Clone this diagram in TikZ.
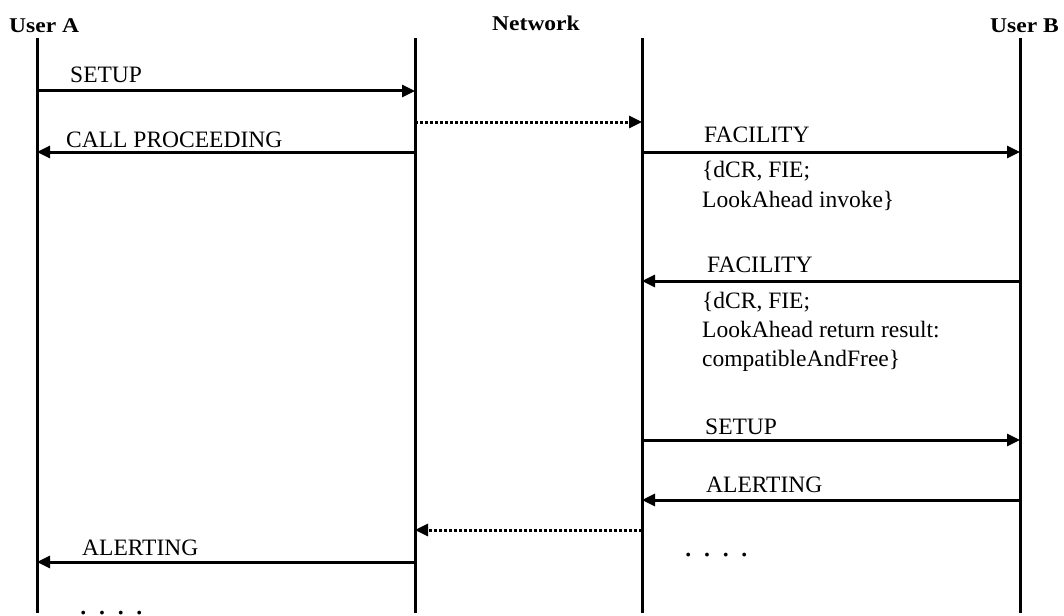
\documentclass[tikz,border=0pt]{standalone}
\usepackage{fontspec}
\setmainfont{Liberation Serif}
\newfontfamily\headfont[FakeStretch=1.12]{Liberation Serif}
\usetikzlibrary{arrows.meta}
\begin{document}
\begin{tikzpicture}[x=1pt,y=-1pt,
  lifeline/.style={line width=3pt},
  msg/.style={line width=3pt,-{Triangle[length=13pt,width=12pt]}},
  relay/.style={msg,dash pattern=on 3.3pt off 1.7pt},
  lbl/.style={anchor=base west,inner sep=0pt,font=\fontsize{23.5}{28}\selectfont},
  head/.style={inner sep=0pt,font=\headfont\bfseries\fontsize{21}{24}\selectfont},
  gap/.style={anchor=base west,inner sep=0pt,font=\itshape\fontsize{32}{36}\selectfont}]
\useasboundingbox (0,0) rectangle (1064,615);

% party headings
\node[head,anchor=base west] (hA) at (9,33) {User A};
\node[head,anchor=base] (hN) at (536,31) {Network};
\node[head,anchor=base east] (hB) at (1059,33) {User B};

% lifelines
\coordinate (A0) at (37,38);   \coordinate (A1) at (37,613);
\coordinate (L0) at (415,38);  \coordinate (L1) at (415,613);
\coordinate (R0) at (642,38);  \coordinate (R1) at (642,613);
\coordinate (B0) at (1020,38); \coordinate (B1) at (1020,613);
\draw[lifeline] (A0) -- (A1);
\draw[lifeline] (L0) -- (L1);
\draw[lifeline] (R0) -- (R1);
\draw[lifeline] (B0) -- (B1);

% message end points on the lifelines
\coordinate (a1) at (37,91);   \coordinate (l1) at (415,91);
\coordinate (l2) at (415,122); \coordinate (r2) at (642,122);
\coordinate (a3) at (37,152);  \coordinate (l3) at (415,152);
\coordinate (r3) at (642,152); \coordinate (b3) at (1020,152);
\coordinate (r4) at (642,281); \coordinate (b4) at (1020,281);
\coordinate (r5) at (642,440); \coordinate (b5) at (1020,440);
\coordinate (r6) at (642,500); \coordinate (b6) at (1020,500);
\coordinate (l7) at (415,530); \coordinate (r7) at (642,530);
\coordinate (a8) at (37,562);  \coordinate (l8) at (415,562);

% messages
\draw[msg] (a1) -- (l1);
\draw[relay] (l2) -- (r2);
\draw[msg] (l3) -- (a3);
\draw[msg] (r3) -- (b3);
\draw[msg] (b4) -- (r4);
\draw[msg] (r5) -- (b5);
\draw[msg] (b6) -- (r6);
\draw[relay] (r7) -- (l7);
\draw[msg] (l8) -- (a8);

% message labels
\node[lbl] (t1) at (70,83) {SETUP};
\node[lbl] (t3) at (66,147) {CALL PROCEEDING};
\node[lbl] (t4) at (704,142) {FACILITY};
\node[lbl] (t4a) at (702,177) {\{dCR, FIE;};
\node[lbl] (t4b) at (702,207) {LookAhead invoke\}};
\node[lbl] (t5) at (707,272) {FACILITY};
\node[lbl] (t5a) at (702,308) {\{dCR, FIE;};
\node[lbl] (t5b) at (702,337) {LookAhead return result:};
\node[lbl] (t5c) at (702,366) {compatibleAndFree\}};
\node[lbl] (t6) at (705,434) {SETUP};
\node[lbl] (t7) at (706,492) {ALERTING};
\node[lbl] (t8) at (82,555) {ALERTING};

% continuation marks
\node[gap] (d1) at (685,556) {. . . .};
\node[gap] (d2) at (80,614) {. . . .};
\end{tikzpicture}
\end{document}
